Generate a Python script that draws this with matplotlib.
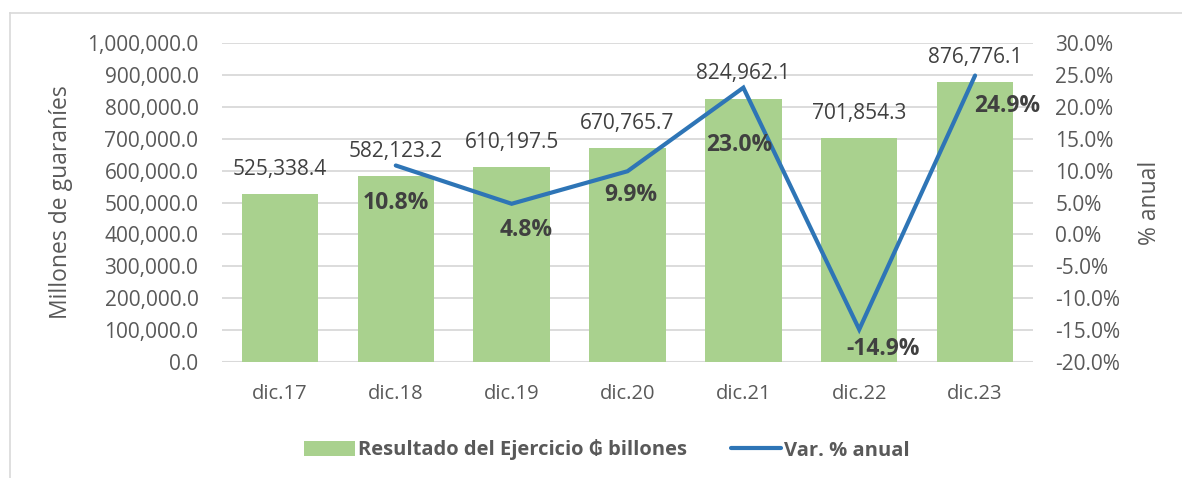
import numpy as np
import matplotlib.pyplot as plt
from matplotlib.patches import Patch
from matplotlib.lines import Line2D
from matplotlib.ticker import FuncFormatter, MultipleLocator

# data
categories = ["dic.17", "dic.18", "dic.19", "dic.20", "dic.21", "dic.22", "dic.23"]
resultado = [525338.4, 582123.2, 610197.5, 670765.7, 824962.1, 701854.3, 876776.1]
var_anual = [np.nan, 10.8, 4.8, 9.9, 23.0, -14.9, 24.9]  # % (no value for dic.17)

# label offsets for the % labels (pixels, x right / y down), as placed in the original
pct_offsets = [None, (0, 38), (15, 26), (3, 24), (-4, 57), (24, 20), (32, 30)]

green = "#A9D18E"
blue = "#2E75B6"
grey_txt = "#595959"
dark_txt = "#404040"
grid_c = "#D9D9D9"

plt.rcParams["font.family"] = ["Open Sans", "DejaVu Sans"]

fig = plt.figure(figsize=(11.82, 4.78), dpi=100)
ax = fig.add_axes([222 / 1182, 1 - 362 / 478, 811 / 1182, 319 / 478])
ax2 = ax.twinx()

x = np.arange(len(categories))
ax.bar(x, resultado, width=0.66, color=green, zorder=2)
ax.set_xlim(-0.5, len(categories) - 0.5)
ax.set_ylim(0, 1000000)
ax.yaxis.set_major_locator(MultipleLocator(100000))
ax.yaxis.set_major_formatter(FuncFormatter(lambda v, p: f"{v:,.1f}"))
ax.grid(axis="y", color=grid_c, lw=1.3, zorder=0)
ax.set_axisbelow(True)
ax.set_xticks(x)
ax.set_xticklabels(categories)

# value labels above bars
for xi, v in zip(x, resultado):
    ax.annotate(f"{v:,.1f}", (xi, v), xytext=(0, 25), textcoords="offset pixels",
                ha="center", va="center", fontsize=15, color=dark_txt, zorder=5)

# line on secondary axis
ax2.plot(x, var_anual, color=blue, lw=3, solid_capstyle="round",
         solid_joinstyle="miter", zorder=4)
ax2.set_ylim(-20, 30)
ax2.yaxis.set_major_locator(MultipleLocator(5))
ax2.yaxis.set_major_formatter(FuncFormatter(lambda v, p: f"{v:.1f}%"))

for xi, v, off in zip(x, var_anual, pct_offsets):
    if off is None or np.isnan(v):
        continue
    ax2.annotate(f"{v:.1f}%", (xi, v), xytext=(off[0], -off[1]), textcoords="offset pixels",
                 ha="center", va="center", fontsize=16.5, fontweight="bold",
                 color=dark_txt, zorder=6)

for a in (ax, ax2):
    for s in a.spines.values():
        s.set_visible(False)
    a.tick_params(length=0, colors=grey_txt, labelsize=15)
ax.tick_params(axis="x", labelsize=14.5, pad=16)
ax.tick_params(axis="y", pad=17)
ax2.tick_params(axis="y", pad=16)
ax.axhline(0, color=grid_c, lw=1.5, zorder=1)

ax.set_ylabel("Millones de guaraníes", fontsize=16.5, color=grey_txt)
ax.yaxis.set_label_coords(-0.1837, 0.5)
ax2.set_ylabel("% anual", fontsize=16.5, color=grey_txt)
ax2.yaxis.set_label_coords(1.1295, 0.5)

handles = [Patch(facecolor=green, edgecolor="none"),
           Line2D([0], [0], color=blue, lw=3, solid_capstyle="round")]
leg = fig.legend(handles, ["Resultado del Ejercicio ₲ billones", "Var. % anual"],
                 loc="center", bbox_to_anchor=(607 / 1182, 1 - 450 / 478), ncol=2,
                 frameon=False, columnspacing=2.2, handlelength=2.5, handletextpad=0.15,
                 prop={"weight": "bold", "size": 14.5})
for t in leg.get_texts():
    t.set_color(grey_txt)

# chart frame (cut off on the right and bottom)
fig.add_artist(Line2D([10 / 1182, 1], [1 - 13 / 478] * 2, color=grid_c, lw=1.2))
fig.add_artist(Line2D([10 / 1182] * 2, [0, 1 - 13 / 478], color=grid_c, lw=1.2))

fig.savefig("out.png", dpi=100)
